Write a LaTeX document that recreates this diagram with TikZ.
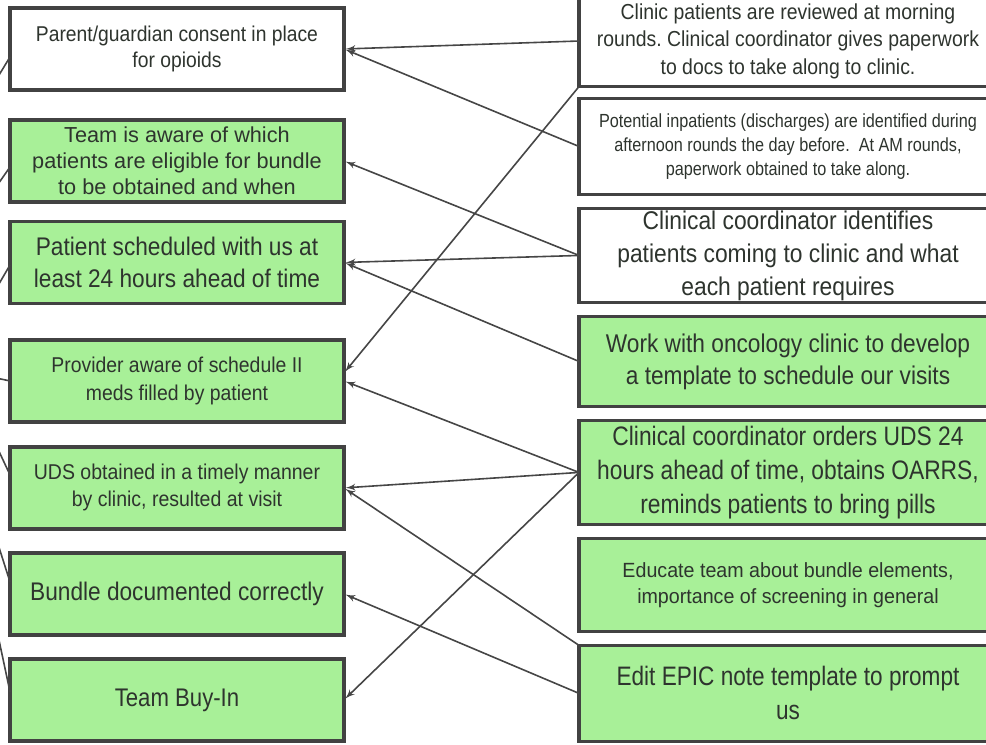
\documentclass[tikz,border=0pt]{standalone}
\usepackage{fontspec}
\setmainfont{Liberation Sans}
\usepackage{tikz}
\usetikzlibrary{shapes,arrows}
\usetikzlibrary{positioning}
\frenchspacing
\definecolor{boxgreen}{RGB}{168,240,152}
\definecolor{boxline}{RGB}{66,66,66}
\definecolor{boxtext}{RGB}{46,52,46}
\definecolor{arrowgray}{RGB}{70,70,70}
\newcommand{\cellfont}[3]{\fontsize{#1}{#2}\selectfont\addfontfeature{FakeStretch=#3}}
\tikzset{auto,>=latex', node distance=0.5cm}
\tikzstyle{goal} = [draw=boxline, line width=0.075cm, rectangle, fill=white, text=boxtext, minimum width=6.68cm, minimum height=1.64cm, inner sep=0pt, outer sep=0pt, align=center]
\tikzstyle{action} = [goal, minimum width=8.36cm]
\tikzstyle{done} = [fill=boxgreen]
\tikzstyle{link} = [draw=arrowgray, line width=0.032cm, shorten >=1pt]

\begin{document}
\begin{tikzpicture}[x=0.02cm, y=-0.02cm]
    \useasboundingbox (0,0) rectangle (986,744);
    \clip (0,0) rectangle (986,744);

    % outcomes
    \node [goal, font=\cellfont{12.2}{14.8}{0.9}] (consent) at (177,49) {Parent/guardian consent in place\\for opioids};
    \node [goal, done, below=0.6cm of consent, font=\cellfont{12.35}{14.8}{1.0}] (eligible) {Team is aware of which\\patients are eligible for bundle\\to be obtained and when};
    \node [goal, done, below=0.39cm of eligible, font=\cellfont{14.5}{18.2}{0.89}] (scheduled) {Patient scheduled with us at\\least 24 hours ahead of time};
    \node [goal, done, below=0.73cm of scheduled, font=\cellfont{12.2}{15.4}{0.905}] (meds) {Provider aware of schedule II\\meds filled by patient};
    \node [goal, done, below=0.5cm of meds, font=\cellfont{12.2}{15.4}{0.91}] (uds) {UDS obtained in a timely manner\\by clinic, resulted at visit};
    \node [goal, done, below=0.48cm of uds, font=\cellfont{14.5}{18.2}{0.89}] (documented) {Bundle documented correctly};
    \node [goal, done, below=0.48cm of documented, font=\cellfont{14.5}{18.2}{0.87}] (buyin) {Team Buy-In};

    % interventions
    \node [action, minimum height=1.82cm, font=\cellfont{12.35}{15.6}{0.895}] (rounds) at (788,41) {Clinic patients are reviewed at morning\\rounds. Clinical coordinator gives paperwork\\to docs to take along to clinic.};
    \node [action, below=0.24cm of rounds, minimum height=1.92cm, font=\cellfont{10.8}{13.7}{0.855}] (inpatients) {Potential inpatients (discharges) are identified during\\afternoon rounds the day before.\ \ At AM rounds,\\paperwork obtained to take along.};
    \node [action, below=0.28cm of inpatients, minimum height=1.88cm, font=\cellfont{14.6}{18.8}{0.89}] (coordinator) {Clinical coordinator identifies\\patients coming to clinic and what\\each patient requires};
    \node [action, done, below=0.28cm of coordinator, minimum height=1.8cm, font=\cellfont{14.6}{18.2}{0.885}] (template) {Work with oncology clinic to develop\\a template to schedule our visits};
    \node [action, done, below=0.28cm of template, minimum height=2.08cm, font=\cellfont{15.2}{19.3}{0.854}] (orders) {Clinical coordinator orders UDS 24\\hours ahead of time, obtains OARRS,\\reminds patients to bring pills};
    \node [action, done, below=0.28cm of orders, minimum height=1.86cm, font=\cellfont{11.7}{14.8}{0.956}] (educate) {Educate team about bundle elements,\\importance of screening in general};
    \node [action, done, below=0.28cm of educate, minimum height=1.92cm, font=\cellfont{15.2}{19.3}{0.846}] (epic) {Edit EPIC note template to prompt\\us};

    \draw [link, ->] (rounds.west) -- (consent.east);
    \draw [link, ->] (inpatients.west) -- (consent.east);
    \draw [link, ->] (rounds.south west) -- ([yshift=4.5pt]meds.east);
    \draw [link, ->] (coordinator.west) -- (eligible.east);
    \draw [link, ->] (coordinator.west) -- (scheduled.east);
    \draw [link, ->] (template.west) -- (scheduled.east);
    \draw [link, ->] (orders.west) -- (meds.east);
    \draw [link, ->] (orders.west) -- (uds.east);
    \draw [link, ->] (orders.west) -- (buyin.east);
    \draw [link, ->] (epic.north west) -- (uds.east);
    \draw [link, ->] (epic.west) -- (documented.east);

    % lines leaving to the left
    \coordinate (consent_out) at (-4,80);
    \coordinate (eligible_out) at (-4,187);
    \coordinate (scheduled_out) at (-4,289);
    \coordinate (meds_out) at (-4,378);
    \coordinate (uds_out) at (-4,445);
    \coordinate (documented_out) at (-4,538);
    \coordinate (buyin_out) at (-4,626);
    \draw [link] ([yshift=-4.5pt]consent.west) -- (consent_out);
    \draw [link] ([yshift=-3.4pt]eligible.west) -- (eligible_out);
    \draw [link] ([yshift=-1.4pt]scheduled.west) -- (scheduled_out);
    \draw [link] (meds.west) -- (meds_out);
    \draw [link] ([yshift=7.4pt]uds.west) -- (uds_out);
    \draw [link] ([yshift=6.8pt]documented.west) -- (documented_out);
    \draw [link] ([yshift=4.5pt]buyin.west) -- (buyin_out);
\end{tikzpicture}
\end{document}
